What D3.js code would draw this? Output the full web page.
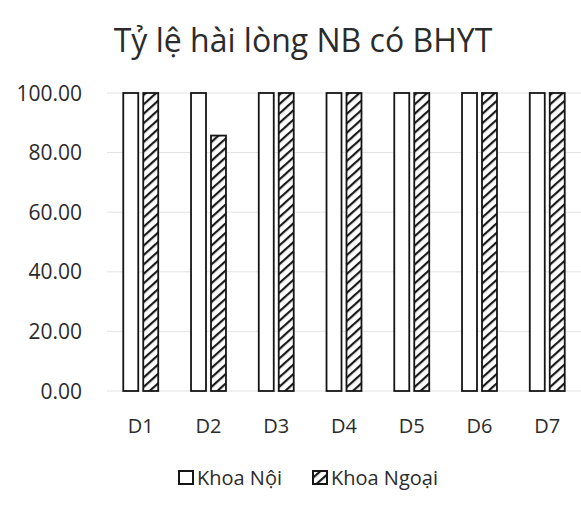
<!DOCTYPE html>
<html>
<head>
<meta charset="utf-8">
<script src="https://cdn.jsdelivr.net/npm/d3@7"></script>
<style>
  body { margin: 0; background: #fff; }
  text { font-family: "Open Sans", "Noto Sans", sans-serif; fill: #2b2b2b; }
</style>
</head>
<body>
<svg id="chart" width="581" height="507"></svg>
<script>
const categories = ["D1", "D2", "D3", "D4", "D5", "D6", "D7"];
const seriesNames = ["Khoa Nội", "Khoa Ngoại"];
const khoaNoi = [100, 100, 100, 100, 100, 100, 100];
const khoaNgoai = [100, 85.71, 100, 100, 100, 100, 100];
const yTicks = [0, 20, 40, 60, 80, 100];

const svg = d3.select("#chart");
const margin = { top: 93, left: 107, bottom: 116 };
const width = 474, height = 507 - margin.top - margin.bottom;

// hatch for Khoa Ngoai
const defs = svg.append("defs");
const pat = defs.append("pattern")
  .attr("id", "hatch")
  .attr("patternUnits", "userSpaceOnUse")
  .attr("width", 7).attr("height", 7)
  .attr("patternTransform", "rotate(48)");
pat.append("rect").attr("width", 7).attr("height", 7).attr("fill", "#fff");
pat.append("line").attr("x1", 1).attr("y1", 0).attr("x2", 1).attr("y2", 7)
  .attr("stroke", "#1a1a1a").attr("stroke-width", 2.4);

svg.append("text")
  .attr("x", 303).attr("y", 52)
  .attr("text-anchor", "middle")
  .style("font-size", "32px")
  .text("Tỷ lệ hài lòng NB có BHYT");

const g = svg.append("g").attr("transform", `translate(${margin.left},${margin.top})`);

const x = d3.scaleBand().domain(categories).range([0, width]).paddingInner(0.484).paddingOuter(0.24);
const xs = d3.scaleBand().domain(seriesNames).range([0, x.bandwidth()]).paddingInner(0.25);
const y = d3.scaleLinear().domain([0, 100]).range([height, 0]);

// gridlines
g.selectAll(".grid").data(yTicks).join("line")
  .attr("x1", 0).attr("x2", width)
  .attr("y1", d => y(d)).attr("y2", d => y(d))
  .attr("stroke", "#e2e2e2").attr("stroke-width", 1);

// y labels
g.selectAll(".ylab").data(yTicks).join("text")
  .attr("x", -25).attr("y", d => y(d))
  .attr("dy", "0.36em")
  .attr("text-anchor", "end")
  .style("font-size", "21px")
  .text(d => d3.format(".2f")(d));

// x labels
g.selectAll(".xlab").data(categories).join("text")
  .attr("x", d => x(d) + x.bandwidth() / 2)
  .attr("y", height + 42)
  .attr("text-anchor", "middle")
  .style("font-size", "20px")
  .text(d => d);

const rows = categories.map((c, i) => ({ c, vals: [khoaNoi[i], khoaNgoai[i]] }));
const fills = ["#fff", "url(#hatch)"];

g.selectAll(".grp").data(rows).join("g")
  .attr("transform", d => `translate(${x(d.c)},0)`)
  .selectAll("rect")
  .data(d => d.vals.map((v, k) => ({ v, k })))
  .join("rect")
  .attr("x", d => xs(seriesNames[d.k]))
  .attr("y", d => y(d.v))
  .attr("width", xs.bandwidth())
  .attr("height", d => y(0) - y(d.v))
  .attr("fill", d => fills[d.k])
  .attr("stroke", "#151515").attr("stroke-width", 1.8);

// legend
const legend = svg.append("g").attr("transform", "translate(0,485)");
const items = [{ n: seriesNames[0], f: fills[0], x: 179 }, { n: seriesNames[1], f: fills[1], x: 313 }];
items.forEach(it => {
  legend.append("rect").attr("x", it.x).attr("y", -14).attr("width", 14).attr("height", 13)
    .attr("fill", it.f).attr("stroke", "#151515").attr("stroke-width", 2);
  legend.append("text").attr("x", it.x + 18).attr("y", 0)
    .style("font-size", "20px").text(it.n);
});
</script>
</body>
</html>
